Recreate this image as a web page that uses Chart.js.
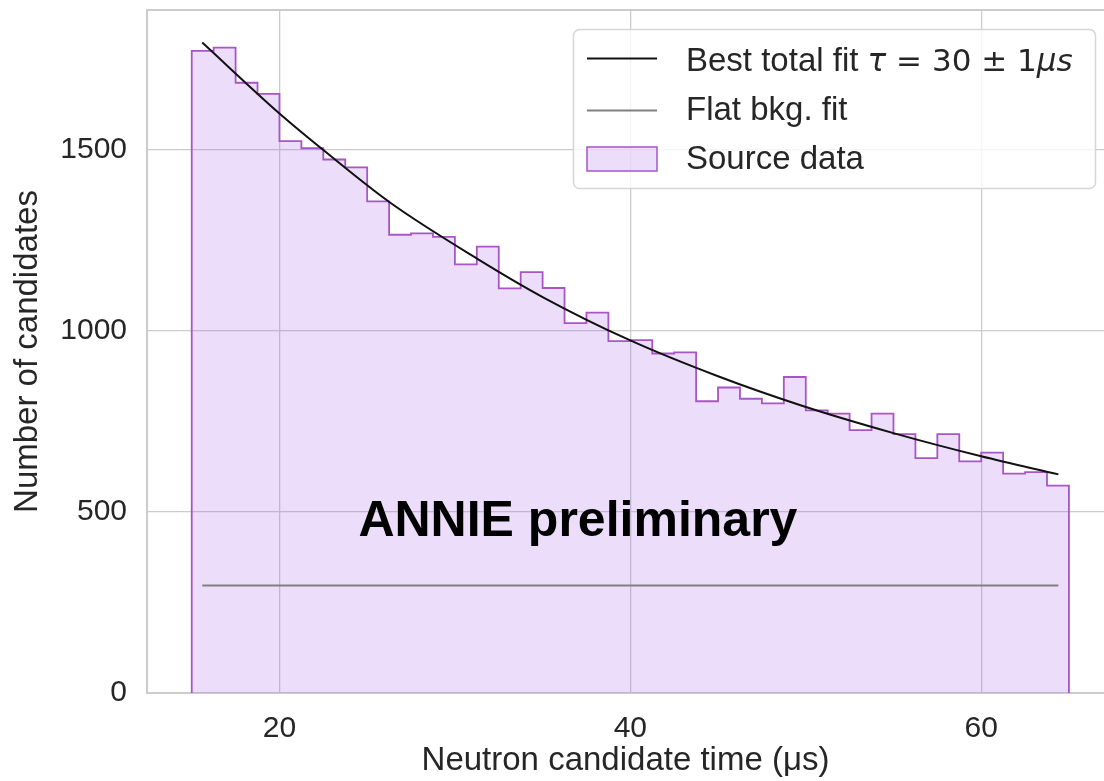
<!DOCTYPE html>
<html>
<head>
<meta charset="utf-8">
<script src="https://cdn.jsdelivr.net/npm/chart.js@4.4.1/dist/chart.umd.min.js"></script>
<style>
  html, body { margin: 0; padding: 0; background: #fff; }
  #wrap { width: 1104px; height: 781px; }
</style>
</head>
<body>
<div id="wrap"><canvas id="chart" width="1104" height="781"></canvas></div>
<script>
// histogram: 40 bins of 1.25 us from 15 to 65
const binStart = 15;
const binWidth = 1.25;
const binCounts = [1774, 1783, 1686, 1655, 1525, 1505, 1474, 1452, 1358, 1266,
                   1270, 1260, 1184, 1233, 1118, 1163, 1119, 1022, 1051, 972,
                   975, 938, 941, 806, 844, 813, 800, 873, 781, 772,
                   726, 772, 715, 649, 715, 640, 664, 606, 610, 573];

// fit curve
const fitTimes = [15.6, 20, 22.5, 26.3, 31.4, 35, 40, 45, 49.7, 55, 60, 64.4];
const fitValues = [1797, 1601, 1500, 1355, 1196, 1094, 974, 875, 795, 718, 654, 604];

// flat background
const bkgTimes = [15.6, 64.4];
const bkgValues = [297, 297];

const xTicks = [20, 40, 60];
const yTicks = [0, 500, 1000, 1500];

const FONT = "'Liberation Sans', Arial, Helvetica, sans-serif";
const TEXT = '#262626';
const GRID = '#cccccc';
const PURPLE = '#a855c8';

// step outline points (left edges + closing edge), dropping to zero at both ends
const histPoints = [{ x: binStart, y: 0 }];
binCounts.forEach((c, i) => histPoints.push({ x: binStart + i * binWidth, y: c }));
const binEnd = binStart + binCounts.length * binWidth;
histPoints.push({ x: binEnd, y: binCounts[binCounts.length - 1] });
histPoints.push({ x: binEnd, y: 0 });

const framePlugin = {
  id: 'frame',
  beforeDatasetsDraw(chart) {
    const { ctx, chartArea: a } = chart;
    ctx.save();
    ctx.strokeStyle = GRID;
    ctx.lineWidth = 2;
    ctx.strokeRect(a.left, a.top, a.right - a.left + 5, a.bottom - a.top);
    ctx.restore();
  }
};

const annotatePlugin = {
  id: 'annotate',
  afterDraw(chart) {
    const { ctx, scales } = chart;
    ctx.save();
    // watermark text
    ctx.fillStyle = '#000';
    ctx.font = 'bold 50px ' + FONT;
    ctx.textBaseline = 'alphabetic';
    ctx.fillText('ANNIE preliminary', scales.x.getPixelForValue(24.5), scales.y.getPixelForValue(435));

    // legend box
    ctx.beginPath();
    ctx.roundRect(573.5, 29.5, 522, 159, 6);
    ctx.fillStyle = 'rgba(255,255,255,0.8)';
    ctx.fill();
    ctx.strokeStyle = '#d6d6d6';
    ctx.lineWidth = 1.5;
    ctx.stroke();

    // handles
    ctx.lineWidth = 2;
    ctx.strokeStyle = '#111';
    ctx.beginPath(); ctx.moveTo(587, 58.5); ctx.lineTo(657, 58.5); ctx.stroke();
    ctx.strokeStyle = '#808080';
    ctx.beginPath(); ctx.moveTo(587, 110.5); ctx.lineTo(657, 110.5); ctx.stroke();
    ctx.fillStyle = 'rgba(160,90,230,0.2)';
    ctx.fillRect(587, 147, 70, 24);
    ctx.strokeStyle = PURPLE;
    ctx.lineWidth = 1.5;
    ctx.strokeRect(587, 147, 70, 24);

    // labels
    ctx.fillStyle = TEXT;
    ctx.font = '33px ' + FONT;
    let x = 686;
    ctx.fillText('Best total fit ', x, 71);
    x += ctx.measureText('Best total fit ').width;
    const parts = [
      ['italic 31px "DejaVu Sans"', 'τ'],
      ['31px "DejaVu Sans"', ' = 30 ± 1'],
      ['italic 31px "DejaVu Sans"', 'μs']
    ];
    parts.forEach(([f, s]) => {
      ctx.font = f;
      ctx.fillText(s, x, 71);
      x += ctx.measureText(s).width;
    });
    ctx.font = '33px ' + FONT;
    ctx.fillText('Flat bkg. fit', 686, 120);
    ctx.fillText('Source data', 686, 169);
    ctx.restore();
  }
};

new Chart(document.getElementById('chart'), {
  type: 'line',
  data: {
    datasets: [
      {
        label: 'Best total fit',
        data: fitTimes.map((t, i) => ({ x: t, y: fitValues[i] })),
        borderColor: '#111',
        borderWidth: 2,
        pointRadius: 0,
        cubicInterpolationMode: 'monotone',
        fill: false,
        order: 0
      },
      {
        label: 'Flat bkg. fit',
        data: bkgTimes.map((t, i) => ({ x: t, y: bkgValues[i] })),
        borderColor: '#808080',
        borderWidth: 2,
        pointRadius: 0,
        fill: false,
        order: 1
      },
      {
        label: 'Source data',
        data: histPoints,
        stepped: 'before',
        borderColor: PURPLE,
        borderWidth: 1.8,
        backgroundColor: 'rgba(160,90,230,0.2)',
        fill: 'origin',
        pointRadius: 0,
        order: 2
      }
    ]
  },
  options: {
    responsive: false,
    animation: false,
    layout: { padding: { top: 10, right: 0, left: 0, bottom: 0 } },
    plugins: {
      legend: { display: false },
      tooltip: { enabled: false }
    },
    scales: {
      x: {
        type: 'linear',
        min: 12.45,
        max: 67.0,
        afterFit: (s) => { s.height = 88; s.paddingLeft = 0; s.paddingRight = 0; },
        afterBuildTicks: (s) => { s.ticks = xTicks.map(v => ({ value: v })); },
        grid: { color: GRID, lineWidth: 1.3, drawTicks: false },
        border: { display: false },
        ticks: { color: TEXT, font: { family: FONT, size: 30 }, padding: 18, callback: (v) => String(v) },
        title: {
          display: true,
          text: 'Neutron candidate time (μs)',
          color: TEXT,
          font: { family: FONT, size: 33 },
          padding: { top: 0, bottom: 0 }
        }
      },
      y: {
        min: 0,
        max: 1887,
        afterFit: (s) => { s.width = 147; s.paddingTop = 0; s.paddingBottom = 0; },
        afterBuildTicks: (s) => { s.ticks = yTicks.map(v => ({ value: v })); },
        grid: { color: GRID, lineWidth: 1.3, drawTicks: false },
        border: { display: false },
        ticks: { color: TEXT, font: { family: FONT, size: 30 }, padding: 20, callback: (v) => String(v) },
        title: {
          display: true,
          text: 'Number of candidates',
          color: TEXT,
          font: { family: FONT, size: 33 },
          padding: { top: 8, bottom: 0 }
        }
      }
    }
  },
  plugins: [framePlugin, annotatePlugin]
});
</script>
</body>
</html>
